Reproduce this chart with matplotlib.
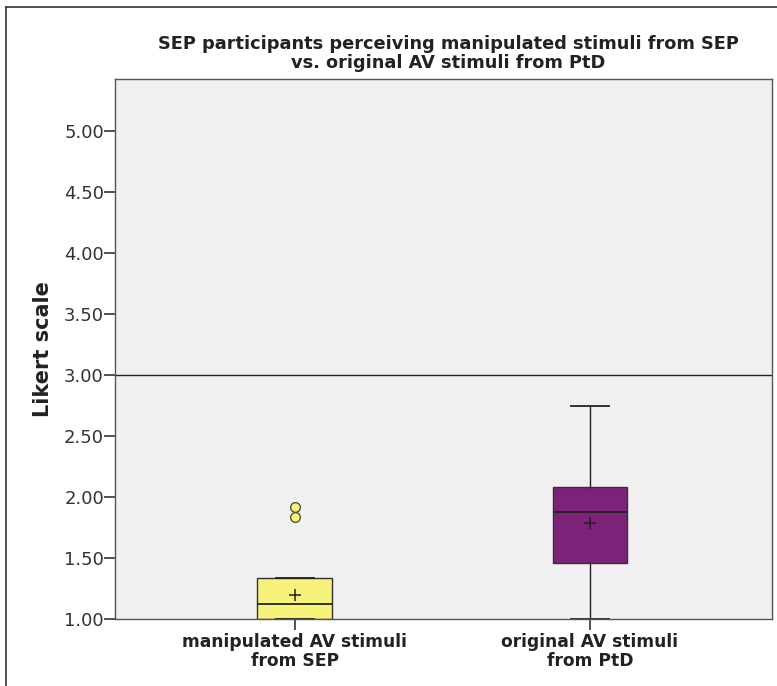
import matplotlib.pyplot as plt
from matplotlib.lines import Line2D

# summary stats
groups = ["manipulated AV stimuli\nfrom SEP", "original AV stimuli\nfrom PtD"]
q1 = [1.00, 1.458]
med = [1.125, 1.875]
q3 = [1.333, 2.083]
wlo = [1.00, 1.00]
whi = [1.333, 2.75]
means = [1.20, 1.79]
outliers = [[1.917, 1.833], []]
colors = ["#f6f27a", "#7c2379"]

title = "SEP participants perceiving manipulated stimuli from SEP\nvs. original AV stimuli from PtD"
yticks = [1.0, 1.5, 2.0, 2.5, 3.0, 3.5, 4.0, 4.5, 5.0]

stats = []
for i in range(len(groups)):
    stats.append(dict(label=groups[i], q1=q1[i], med=med[i], q3=q3[i],
                      whislo=wlo[i], whishi=whi[i], mean=means[i], fliers=outliers[i]))

fig = plt.figure(figsize=(7.77, 6.86), dpi=100)
ax = fig.add_axes([0.148, 0.0977, 0.8456, 0.7873])
ax.set_facecolor("#f0f0f0")

pos = [1, 2]
bp = ax.bxp(stats, positions=pos, widths=0.254, patch_artist=True, showmeans=True,
            capwidths=0.127,
            boxprops=dict(edgecolor="#333333", linewidth=1.0),
            medianprops=dict(color="#222222", linewidth=1.3),
            whiskerprops=dict(color="#222222", linewidth=1.0),
            capprops=dict(color="#222222", linewidth=1.3),
            meanprops=dict(marker="+", markeredgecolor="#222222", markersize=9, markeredgewidth=1.1),
            flierprops=dict(marker="o", markerfacecolor=colors[0], markeredgecolor="#555533",
                            markersize=7, markeredgewidth=1.0))
for patch, c in zip(bp["boxes"], colors):
    patch.set_facecolor(c)

ax.axhline(3.0, color="#222222", linewidth=1.0)

ax.set_xlim(0.39, 2.617)
ax.set_ylim(1.0, 5.43)
ax.set_yticks(yticks)
ax.set_yticklabels(["%.2f" % t for t in yticks], fontsize=13, color="#333333")
ax.set_xticks(pos)
ax.set_xticklabels(groups, fontsize=12.3, fontweight="bold", color="#222222", linespacing=1.1)
ax.tick_params(axis="y", direction="out", length=8, width=1.2, color="#333333", pad=0)
ax.tick_params(axis="x", direction="out", length=8, width=1.2, color="#333333", pad=2)
for s in ax.spines.values():
    s.set_color("#555555")
    s.set_linewidth(1.0)

ax.set_ylabel("Likert scale", fontsize=15, fontweight="bold", color="#222222", labelpad=8)
fig.text(0.5766, 0.8946, title, ha="center", va="bottom", fontsize=12.8, fontweight="bold",
         color="#222222", linespacing=1.1)

# outer chart frame
fig.add_artist(Line2D([6 / 777, 1.0], [1 - 7 / 686, 1 - 7 / 686], color="#333333", linewidth=1.2))
fig.add_artist(Line2D([6 / 777, 6 / 777], [0.0, 1 - 7 / 686], color="#333333", linewidth=1.2))

fig.savefig("out.png", dpi=100)
